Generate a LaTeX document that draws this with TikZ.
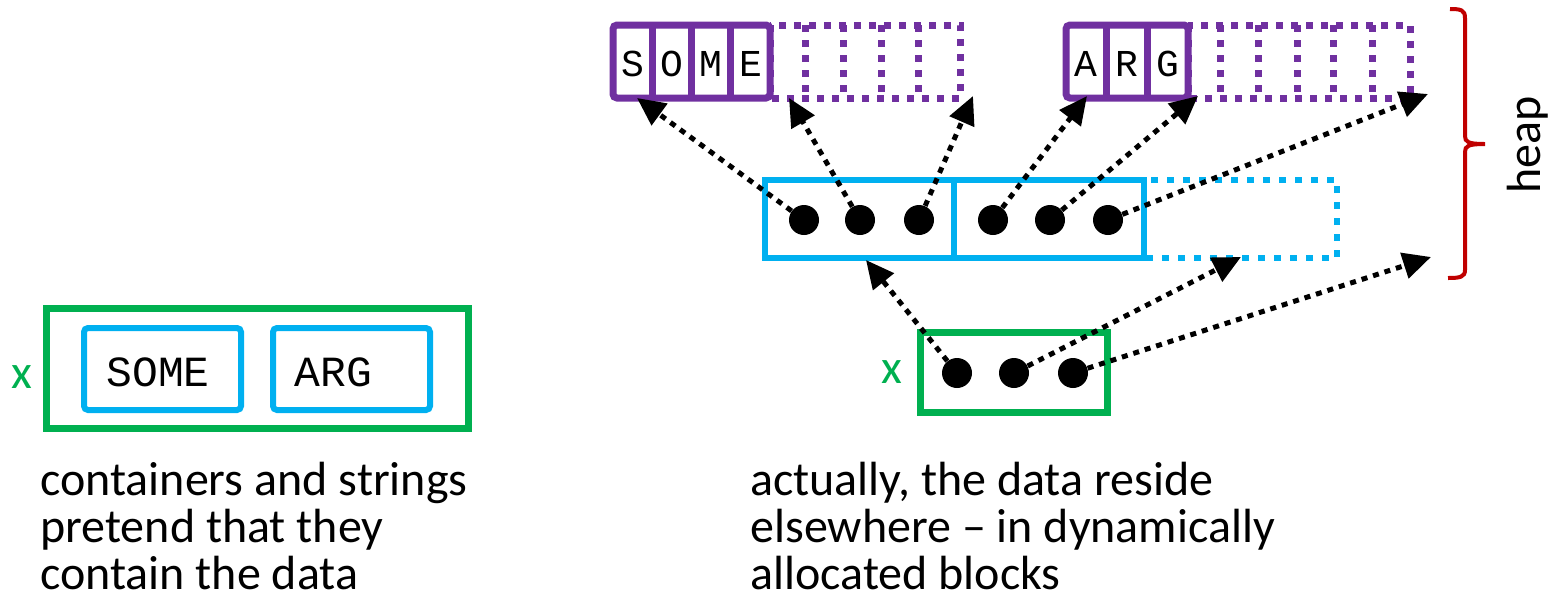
\documentclass[tikz,border=0pt]{standalone}
\usepackage{fontspec}
\setmainfont{Carlito}
\newfontfamily\codefont{Liberation Mono}
\usetikzlibrary{arrows.meta}
\definecolor{cgreen}{HTML}{00B050}
\definecolor{cblue}{HTML}{00B0F0}
\definecolor{cpurple}{HTML}{7030A0}
\definecolor{cred}{HTML}{C00000}
\tikzset{
  gbox/.style={draw=cgreen,line width=3.5pt},
  bbox/.style={draw=cblue,line width=3pt},
  bdot/.style={draw=cblue,line width=3pt,dash pattern=on 3.5pt off 4.5pt},
  pbox/.style={draw=cpurple,line width=3.5pt},
  pdot/.style={draw=cpurple,line width=3.5pt,dash pattern=on 3.5pt off 4pt},
  ptr/.style={line width=2.5pt,dash pattern=on 3pt off 3pt,
    -{Triangle[length=14pt,width=13pt]}},
  ball/.style={circle,fill=black,minimum size=15pt,inner sep=0pt},
  body/.style={font=\fontsize{24}{26}\selectfont,anchor=base west,inner sep=0pt},
  chr/.style={font=\codefont\fontsize{19}{22}\selectfont,anchor=base,inner sep=0pt},
  word/.style={font=\codefont\fontsize{21.5}{24}\selectfont,anchor=base west,inner sep=0pt},
  varname/.style={text=cgreen,font=\fontsize{24}{26}\selectfont,inner sep=0pt},
}
\begin{document}
\begin{tikzpicture}[x=0.5pt,y=-0.5pt]
\useasboundingbox (0,0) rectangle (1560,612);

% ---------- left: the naive picture ----------
\draw[gbox] (46,308) rectangle (468,428);
\draw[bbox,rounded corners=2pt] (84,328) rectangle (241,410);
\draw[bbox,rounded corners=2pt] (273,328) rectangle (430,410);
\node[word] (lsome) at (106,386) {SOME};
\node[word] (larg) at (294,386) {ARG};
\node[varname] (lx) at (22,377) {x};

\node[body] (l1) at (40,495) {containers and strings};
\node[body] (l2) at (40,542) {pretend that they};
\node[body] (l3) at (40,589) {contain the data};

% ---------- right: heap blocks ----------
% string "SOME"
\draw[pdot] (770,25) rectangle (960,98);
\foreach \x in {805,843,881,918} \draw[pdot] (\x,25) -- (\x,98);
\draw[pbox,rounded corners=2pt,fill=white] (613,25) rectangle (770,98);
\foreach \x in {652.25,691.5,730.75} \draw[pbox] (\x,25) -- (\x,98);
\node[chr] (cS) at (632.6,76) {S};
\node[chr] (cO) at (671.9,76) {O};
\node[chr] (cM) at (711.1,76) {M};
\node[chr] (cE) at (750.4,76) {E};

% string "ARG"
\draw[pdot] (1188,25) rectangle (1410,98);
\foreach \x in {1220,1258,1297,1333,1372} \draw[pdot] (\x,25) -- (\x,98);
\draw[pbox,rounded corners=2pt,fill=white] (1066,25) rectangle (1188,98);
\foreach \x in {1106.7,1147.3} \draw[pbox] (\x,25) -- (\x,98);
\node[chr] (cA) at (1086.3,76) {A};
\node[chr] (cR) at (1127,76) {R};
\node[chr] (cG) at (1167.7,76) {G};

% vector buffer of two strings
\draw[bdot] (1144,180) rectangle (1337,258);
\draw[bbox] (765,180) rectangle (1144,258);
\draw[bbox] (954,180) -- (954,258);
\node[ball] (b1) at (804,220) {};
\node[ball] (b2) at (860,220) {};
\node[ball] (b3) at (919,220) {};
\node[ball] (b4) at (993,220) {};
\node[ball] (b5) at (1050,220) {};
\node[ball] (b6) at (1108,220) {};

% the variable itself
\draw[gbox] (920,332) rectangle (1107,412);
\node[varname] (rx) at (892,372) {x};
\node[ball] (g1) at (957,373) {};
\node[ball] (g2) at (1014,373) {};
\node[ball] (g3) at (1073,373) {};

% pointer targets
\coordinate (t1) at (637,98);
\coordinate (t2) at (789,98);
\coordinate (t3) at (973,96);
\coordinate (t4) at (1087,96);
\coordinate (t5) at (1198,96);
\coordinate (t6) at (1428,94);
\coordinate (u1) at (866,260);
\coordinate (u2) at (1241,257);
\coordinate (u3) at (1431,257);

\draw[ptr] (b1) -- (t1);
\draw[ptr] (b2) -- (t2);
\draw[ptr] (b3) -- (t3);
\draw[ptr] (b4) -- (t4);
\draw[ptr] (b5) -- (t5);
\draw[ptr] (b6) -- (t6);
\draw[ptr] (g1) -- (u1);
\draw[ptr] (g2) -- (u2);
\draw[ptr] (g3) -- (u3);

% heap brace
\draw[cred,line width=2pt]
  (1450,9) .. controls (1461,9) and (1465,10) .. (1465,18) -- (1465,136)
  .. controls (1465,142) and (1468,144) .. (1485,144)
  .. controls (1468,144) and (1465,146) .. (1465,152) -- (1465,270)
  .. controls (1465,277) and (1460,278) .. (1448,278);
\node[font=\fontsize{24}{26}\selectfont,rotate=90,inner sep=0pt] (heap) at (1528,145) {heap};

\node[body] (r1) at (750,495) {actually, the data reside};
\node[body] (r2) at (750,542) {elsewhere – in dynamically};
\node[body] (r3) at (750,589) {allocated blocks};
\end{tikzpicture}
\end{document}
